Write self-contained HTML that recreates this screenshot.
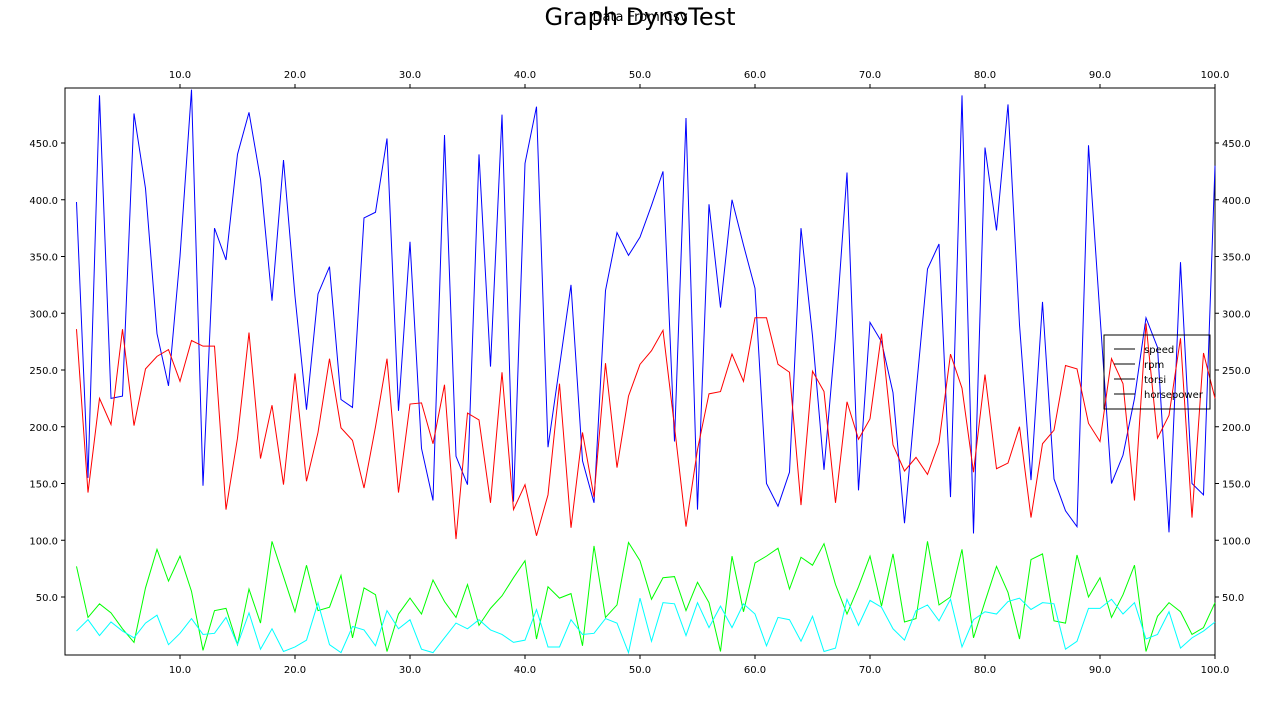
<!DOCTYPE html>
<html><head><meta charset="utf-8"><style>
body{margin:0;background:#fff;}
svg text{font-family:"DejaVu Sans","Liberation Sans",sans-serif;}
</style></head><body>
<svg id="chart" width="1280" height="720">
<text x="640" y="25" text-anchor="middle" font-size="24">Graph DynoTest</text>
<text x="640" y="21" text-anchor="middle" font-size="13">Data From Csv</text>
<rect x="65" y="88" width="1150" height="567" fill="none" stroke="#000" stroke-width="1"/>
<g id="axes"></g>
<g id="series"></g>
<g>
<rect x="1104" y="335" width="106" height="74" fill="none" stroke="#000"/>
<line x1="1114" y1="349" x2="1135" y2="349" stroke="#000"/>
<text x="1144" y="353" font-size="10">speed</text>
<line x1="1114" y1="364" x2="1135" y2="364" stroke="#000"/>
<text x="1144" y="368" font-size="10">rpm</text>
<line x1="1114" y1="379" x2="1135" y2="379" stroke="#000"/>
<text x="1144" y="383" font-size="10">torsi</text>
<line x1="1114" y1="394" x2="1135" y2="394" stroke="#000"/>
<text x="1144" y="398" font-size="10">horsepower</text>
</g>
</svg>
<script>
const speed=[398,155,492,225,227,476,410,282,236,350,497,148,375,347,440,477,418,311,435,315,215,317,341,224,217,384,389,454,214,363,181,135,457,174,149,440,253,475,134,432,482,182,253,325,170,133,320,371,351,367,395,425,187,472,127,396,305,400,360,322,150,130,160,375,280,162,280,424,144,292,275,230,115,230,339,361,138,492,106,446,373,484,290,153,310,154,126,112,448,298,150,175,225,296,270,107,345,150,140,430];
const torsi=[286,142,225,202,286,201,251,262,268,240,276,271,271,127,190,283,172,219,149,247,152,195,260,199,188,146,200,260,142,220,221,185,237,101,212,206,133,248,127,149,104,140,238,111,195,138,256,164,227,255,267,285,200,112,180,229,231,264,240,296,296,255,248,131,249,231,133,222,189,207,282,184,161,173,158,186,264,234,160,246,163,168,200,120,185,197,254,251,203,187,260,238,135,291,190,210,278,120,265,225];
const rpm=[77,32,44,36,22,10,58,92,64,86,55,3,38,40,8,57,27,99,68,37,78,38,41,69,14,58,52,2,35,49,35,65,46,32,61,25,40,51,67,82,13,59,49,53,7,95,32,43,98,82,48,67,68,38,63,45,2,86,37,80,86,93,57,85,78,97,61,35,59,86,42,88,28,31,99,43,50,92,14,46,77,54,13,83,88,29,27,87,50,67,32,52,78,2,33,45,37,17,23,45];
const horsepower=[20,30,16,28,20,14,27,34,8,18,31,17,18,32,8,36,4,22,2,6,12,45,8,1,24,21,7,38,22,30,4,1,14,27,22,30,21,17,10,12,39,6,6,30,17,18,31,27,1,49,11,45,44,16,45,23,42,23,44,35,7,32,30,11,33,2,5,48,25,47,41,22,12,38,43,29,48,6,30,37,35,46,49,39,45,44,4,11,40,40,48,35,45,13,17,37,5,14,20,28];
const xTicks=[10,20,30,40,50,60,70,80,90,100];
const yTicks=[50,100,150,200,250,300,350,400,450];
const NS='http://www.w3.org/2000/svg';
function X(v){return 65+v*11.5;}
function Y(v){return 653.75-v*1.135;}
const axes=document.getElementById('axes');
function mk(tag,attrs,parent){const e=document.createElementNS(NS,tag);for(const k in attrs)e.setAttribute(k,attrs[k]);parent.appendChild(e);return e;}
xTicks.forEach(t=>{
  const x=X(t);
  const a=mk('line',{x1:x,y1:655,x2:x,y2:659,stroke:'#000'},axes);
  
  
  const b=mk('line',{x1:x,y1:88,x2:x,y2:84,stroke:'#000'},axes);
  
  
  const l1=mk('text',{x:x,y:673,'text-anchor':'middle','font-size':10},axes);l1.textContent=t.toFixed(1);
  
  
  const l2=mk('text',{x:x,y:78,'text-anchor':'middle','font-size':10},axes);l2.textContent=t.toFixed(1);
  
  
});
yTicks.forEach(t=>{
  const y=Y(t);
  const a=mk('line',{x1:65,y1:y,x2:61,y2:y,stroke:'#000'},axes);
  
  
  const b=mk('line',{x1:1215,y1:y,x2:1219,y2:y,stroke:'#000'},axes);
  
  
  const l1=mk('text',{x:58,y:y+4,'text-anchor':'end','font-size':10},axes);l1.textContent=t.toFixed(1);
  
  
  const l2=mk('text',{x:1222,y:y+4,'font-size':10},axes);l2.textContent=t.toFixed(1);
  
  
});
const sg=document.getElementById('series');
[[speed,'#0000ff','speed-line'],[torsi,'#ff0000','torsi-line'],[rpm,'#00ff00','rpm-line'],[horsepower,'#00ffff','horsepower-line']].forEach(([d,c,n])=>{
  const pts=d.map((v,i)=>X(i+1).toFixed(2)+','+Y(v).toFixed(2)).join(' ');
  const p=mk('polyline',{points:pts,fill:'none',stroke:c,'stroke-width':1},sg);
  
  
});
</script>
</body></html>
